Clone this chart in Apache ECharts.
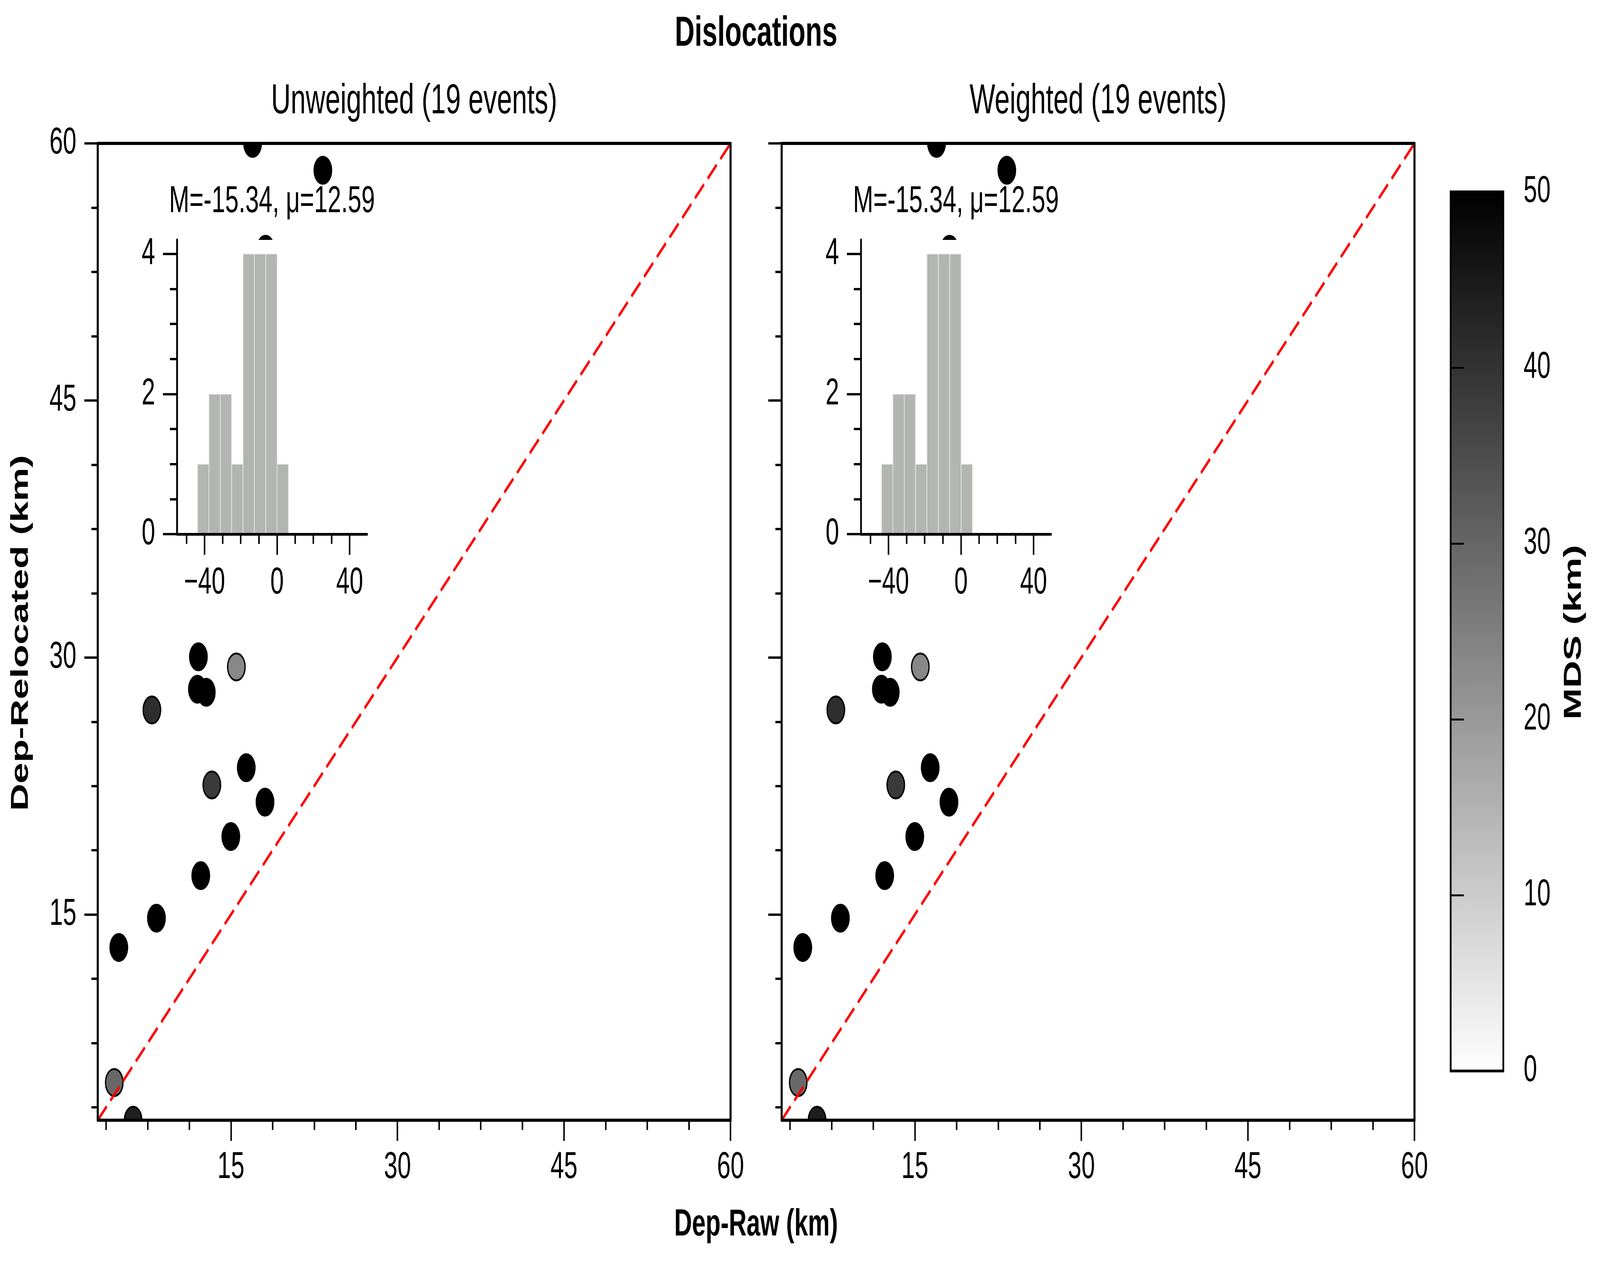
<!DOCTYPE html>
<html>
<head>
<meta charset="utf-8">
<title>Dislocations</title>
<script src="https://cdn.jsdelivr.net/npm/echarts@6/dist/echarts.min.js"></script>
<style>
  html, body { margin: 0; padding: 0; background: #fff; overflow: hidden; }
  #chart { width: 6321px; height: 3235px; }
</style>
</head>
<body>
<div id="chart"></div>
<script>
// ---- data ----
const depRaw   = [12.07, 15.49, 11.98, 12.78, 7.88, 16.38, 13.28, 18.07, 14.99, 12.28, 8.29, 4.90, 4.49, 6.19, 16.95, 23.28, 18.12];
const depReloc = [30.04, 29.45, 28.15, 27.97, 26.94, 23.57, 22.56, 21.56, 19.55, 17.27, 14.79, 13.08, 5.20, 3.00, 60.00, 58.43, 53.82];
const mdsKm    = [50, 23.3, 50, 50, 41, 50, 38.6, 50, 50, 50, 50, 50, 29.6, 44, 50, 50, 50];
const oneToOne = [3, 60];

const histEdges  = [-43.85, -37.58, -31.31, -25.04, -18.77, -12.50, -6.23, 0.04, 6.31];
const histCounts = [1, 2, 2, 1, 4, 4, 4, 1];

const mainTicks      = [15, 30, 45, 60];
const mainMinorTicks = [3.75, 7.5, 11.25, 15, 18.75, 22.5, 26.25, 30, 33.75, 37.5, 41.25, 45, 48.75, 52.5, 56.25, 60];
const insetXTicks    = [-40, 0, 40];
const insetXMinor    = [-50, -40, -30, -20, -10, 0, 10, 20, 30, 40];
const insetYTicks    = [0, 2, 4];
const insetYMinor    = [0, 0.5, 1, 1.5, 2, 2.5, 3, 3.5, 4];
const colorbarTicks  = [0, 10, 20, 30, 40, 50];

const panelTitles = ['Unweighted (19 events)', 'Weighted (19 events)'];
const statsText   = 'M=-15.34, \u03bc=12.59';

// ---- layout (pixels of the 6321 x 3235 figure) ----
const FIG_W = 6321;
const FIG_H = 3235;
const FONT = 'Liberation Sans';
const PANEL_LEFT = [386, 3088];
const PANEL_TOP = 367;
const PANEL_SIZE = 2500;
const INSET = { dx: 313, dy: 247, w: 751, h: 753 };
const CBAR = { left: 5731, top: 491, width: 208, height: 2250 };

const grids = [];
const xAxes = [];
const yAxes = [];
const series = [];
const graphics = [];
const scatterIdx = [];

function baseAxis (gridIndex, min, max, z) {
    return {
        type: 'value', gridIndex, min, max, z,
        splitLine: { show: false },
        axisLine: { show: false, onZero: false, lineStyle: { color: '#000', width: 8 } },
        axisTick: { show: false },
        axisLabel: { show: false }
    };
}

function tickAxis (gridIndex, min, max, z, o) {
    const ax = baseAxis(gridIndex, min, max, z);
    ax.position = o.position;
    if (o.line) {
        ax.axisLine.show = true;
        ax.axisLine.lineStyle.width = o.line;
    }
    if (o.ticks) {
        ax.axisTick = { show: true, inside: false, length: o.tickLen, customValues: o.ticks, lineStyle: { color: '#000', width: 6 } };
    }
    if (o.labels) {
        ax.axisLabel = {
            show: true, customValues: o.labels, margin: o.margin,
            fontSize: 96, fontFamily: FONT, color: '#000',
            formatter: (v) => (v < 0 ? '\u2212' + Math.abs(v) : String(v))
        };
    }
    return ax;
}

const hoverOff = { disabled: true };

PANEL_LEFT.forEach((left, p) => {
    // main panel
    const g = grids.length;
    grids.push({ left, top: PANEL_TOP, width: PANEL_SIZE, height: PANEL_SIZE, show: false });
    const xi = xAxes.length;
    xAxes.push(tickAxis(g, oneToOne[0], oneToOne[1], 10, { position: 'bottom', line: 8, ticks: mainTicks, tickLen: 53, labels: mainTicks, margin: 74 }));
    xAxes.push(tickAxis(g, oneToOne[0], oneToOne[1], 10, { position: 'bottom', ticks: mainMinorTicks, tickLen: 25 }));
    xAxes.push(tickAxis(g, oneToOne[0], oneToOne[1], 10, { position: 'top', line: 8 }));
    const yi = yAxes.length;
    yAxes.push(tickAxis(g, oneToOne[0], oneToOne[1], 10, { position: 'left', line: 8, ticks: mainTicks, tickLen: 53, labels: p === 0 ? mainTicks : null, margin: 84 }));
    yAxes.push(tickAxis(g, oneToOne[0], oneToOne[1], 10, { position: 'left', ticks: mainMinorTicks, tickLen: 25 }));
    yAxes.push(tickAxis(g, oneToOne[0], oneToOne[1], 10, { position: 'right', line: 8 }));

    scatterIdx.push(series.length);
    series.push({
        type: 'scatter', xAxisIndex: xi, yAxisIndex: yi, z: 2, clip: false, silent: true,
        symbol: 'circle', symbolSize: 69,
        itemStyle: { borderColor: '#000', borderWidth: 5, opacity: 1 },
        emphasis: hoverOff,
        data: depRaw.map((x, i) => [x, depReloc[i], mdsKm[i]])
    });
    series.push({
        type: 'line', xAxisIndex: xi, yAxisIndex: yi, z: 3, silent: true, symbol: 'none',
        lineStyle: { color: '#ff0000', width: 8, type: [50, 21] },
        emphasis: hoverOff,
        data: [[oneToOne[0], oneToOne[0]], [oneToOne[1], oneToOne[1]]]
    });

    // white bands outside the box hide the overflow of clipped markers
    const pad = 100;
    const right = left + PANEL_SIZE;
    const bottom = PANEL_TOP + PANEL_SIZE;
    [
        [left - pad, PANEL_TOP - pad, PANEL_SIZE + 2 * pad, pad],
        [left - pad, bottom, PANEL_SIZE + 2 * pad, pad],
        [left - pad, PANEL_TOP, pad, PANEL_SIZE],
        [right, PANEL_TOP, pad, PANEL_SIZE]
    ].forEach((r) => {
        graphics.push({ type: 'rect', z: 8, silent: true, shape: { x: r[0], y: r[1], width: r[2], height: r[3] }, style: { fill: '#fff' } });
    });

    // inset histogram
    const ig = grids.length;
    grids.push({
        left: left + INSET.dx, top: PANEL_TOP + INSET.dy, width: INSET.w, height: INSET.h,
        show: true, backgroundColor: '#fff', borderWidth: 0, borderColor: 'transparent', z: 4
    });
    const ixi = xAxes.length;
    xAxes.push(tickAxis(ig, -55.2, 49.6, 6, { position: 'bottom', line: 7, ticks: insetXTicks, tickLen: 53, labels: insetXTicks, margin: 78 }));
    xAxes.push(tickAxis(ig, -55.2, 49.6, 6, { position: 'bottom', ticks: insetXMinor, tickLen: 25 }));
    const iyi = yAxes.length;
    yAxes.push(tickAxis(ig, 0, 4.2, 6, { position: 'left', line: 7, ticks: insetYTicks, tickLen: 55, labels: insetYTicks, margin: 86 }));
    yAxes.push(tickAxis(ig, 0, 4.2, 6, { position: 'left', ticks: insetYMinor, tickLen: 28 }));

    series.push({
        type: 'custom', xAxisIndex: ixi, yAxisIndex: iyi, z: 5, silent: true,
        encode: { x: [0, 1], y: 2 },
        data: histCounts.map((c, i) => [histEdges[i], histEdges[i + 1], c]),
        renderItem: (params, api) => {
            const p0 = api.coord([api.value(0), 0]);
            const p1 = api.coord([api.value(1), api.value(2)]);
            return {
                type: 'rect',
                shape: { x: p0[0], y: p1[1], width: p1[0] - p0[0], height: p0[1] - p1[1] },
                style: { fill: '#b3b5b2', stroke: '#ececec', lineWidth: 2.5 }
            };
        }
    });

    const cx = left + PANEL_SIZE / 2;
    graphics.push({
        type: 'text', z: 20, silent: true, x: cx, y: 260,
        style: { text: panelTitles[p], font: `normal 107px "${FONT}"`, fill: '#000', textAlign: 'center', textVerticalAlign: 'middle' }
    });
    graphics.push({
        type: 'text', z: 20, silent: true, x: left + INSET.dx + INSET.w / 2, y: 517,
        style: { text: statsText, font: `normal 96px "${FONT}"`, fill: '#000', textAlign: 'center', textVerticalAlign: 'middle' }
    });
});

// colorbar
const cg = grids.length;
grids.push({ left: CBAR.left, top: CBAR.top, width: CBAR.width, height: CBAR.height, show: false });
const cxi = xAxes.length;
xAxes.push(Object.assign(baseAxis(cg, 0, 1, 0), { show: false }));
const cyi = yAxes.length;
yAxes.push({
    type: 'value', gridIndex: cg, position: 'right', min: colorbarTicks[0], max: colorbarTicks[colorbarTicks.length - 1], interval: 10, z: 10,
    splitLine: { show: false },
    axisLine: { show: false },
    axisTick: { show: true, inside: false, length: 52, lineStyle: { color: '#000', width: 5 } },
    axisLabel: { show: true, margin: 80, fontSize: 96, fontFamily: FONT, color: '#000' }
});
series.push({
    type: 'custom', xAxisIndex: cxi, yAxisIndex: cyi, z: 5, silent: true,
    data: [[0, colorbarTicks[0], colorbarTicks[colorbarTicks.length - 1]]],
    renderItem: (params, api) => {
        const lo = api.coord([0, api.value(1)]);
        const hi = api.coord([1, api.value(2)]);
        return {
            type: 'rect',
            shape: { x: lo[0], y: hi[1], width: hi[0] - lo[0], height: lo[1] - hi[1] },
            style: {
                fill: new echarts.graphic.LinearGradient(0, 0, 0, 1, [
                    { offset: 0, color: '#000000' },
                    { offset: 1, color: '#ffffff' }
                ]),
                stroke: '#000', lineWidth: 7
            }
        };
    }
});

// figure texts
graphics.push({
    type: 'text', z: 20, silent: true, x: 2987, y: 87,
    style: { text: 'Dislocations', font: `bold 108px "${FONT}"`, fill: '#000', textAlign: 'center', textVerticalAlign: 'middle' }
});
graphics.push({
    type: 'text', z: 20, silent: true, x: 2987, y: 3135,
    style: { text: 'Dep-Raw (km)', font: `bold 97px "${FONT}"`, fill: '#000', textAlign: 'center', textVerticalAlign: 'middle' }
});
graphics.push({
    type: 'text', z: 20, silent: true, x: 83, y: 1620, rotation: Math.PI / 2,
    style: { text: 'Dep-Relocated (km)', font: `bold 97px "${FONT}"`, fill: '#000', textAlign: 'center', textVerticalAlign: 'middle' }
});
graphics.push({
    type: 'text', z: 20, silent: true, x: 6218, y: 1618, rotation: Math.PI / 2,
    style: { text: 'MDS (km)', font: `bold 97px "${FONT}"`, fill: '#000', textAlign: 'center', textVerticalAlign: 'middle' }
});

const option = {
    animation: false,
    backgroundColor: '#fff',
    textStyle: { fontFamily: FONT },
    grid: grids,
    xAxis: xAxes,
    yAxis: yAxes,
    visualMap: {
        show: false, type: 'continuous', dimension: 2, seriesIndex: scatterIdx,
        min: colorbarTicks[0], max: colorbarTicks[colorbarTicks.length - 1],
        inRange: { color: ['#ffffff', '#000000'] }
    },
    graphic: { elements: graphics },
    series
};

// the window can come out narrower than the figure; squeeze the whole figure into it
const dom = document.getElementById('chart');
const sx = Math.min(1, window.innerWidth / FIG_W);
const sy = Math.min(1, window.innerHeight / FIG_H);
if (sx < 1 || sy < 1) {
    dom.style.transformOrigin = '0 0';
    dom.style.transform = `scale(${sx}, ${sy})`;
}

const myChart = echarts.init(dom, null, { renderer: 'canvas', width: FIG_W, height: FIG_H });
myChart.setOption(option);
</script>
</body>
</html>
